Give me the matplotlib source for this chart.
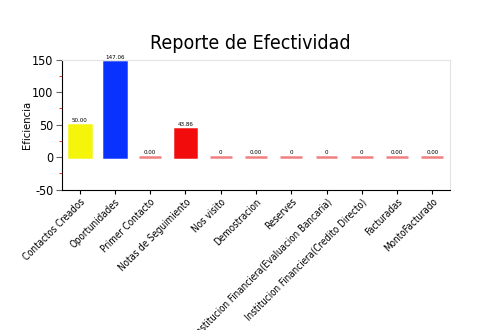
import matplotlib
matplotlib.use("Agg")
import matplotlib.pyplot as plt
from matplotlib.ticker import MultipleLocator

categorias = [
    "Contactos Creados", "Oportunidades", "Primer Contacto", "Notas de Seguimiento",
    "Nos visito", "Demostracion", "Reserves",
    "Institucion Financiera(Evaluacion Bancaria)",
    "Institucion Financiera(Credito Directo)", "Facturadas", "MontoFacturado",
]
valores = [50.00, 147.06, 0.00, 43.86, 0, 0.00, 0, 0, 0, 0.00, 0.00]
etiquetas = ["50.00", "147.06", "0.00", "43.86", "0", "0.00", "0", "0", "0", "0.00", "0.00"]
colores = ["#f5f50c", "#0a32ff", "#f08080", "#f20c0c", "#f08080", "#f08080",
           "#f08080", "#f08080", "#f08080", "#f08080", "#f08080"]

plt.rcParams["font.family"] = ["DejaVu Sans"]
plt.rcParams["font.stretch"] = "condensed"
plt.rcParams["font.weight"] = "light"
plt.rcParams["axes.unicode_minus"] = False

fig = plt.figure(figsize=(5.0, 3.3), dpi=100)
ax = fig.add_axes([0.124, 0.425, 0.776, 0.394])

x = range(len(categorias))
ax.bar(x, valores, width=0.62, color=colores, edgecolor=colores, linewidth=1.8)
for xi, v, t in zip(x, valores, etiquetas):
    ax.text(xi, v + 3, t, ha="center", va="bottom", fontsize=4.5)

ax.set_xlim(-0.5, len(categorias) - 0.5)
ax.set_ylim(-50, 150)
ax.yaxis.set_major_locator(MultipleLocator(50))
ax.yaxis.set_minor_locator(MultipleLocator(25))
ax.tick_params(axis="y", which="major", length=4, color="#666666", labelsize=9, pad=2)
ax.tick_params(axis="y", which="minor", length=2, color="red")
ax.tick_params(axis="x", length=3, color="black", labelsize=7, pad=2)
ax.set_xticks(list(x))
ax.set_xticklabels(categorias, rotation=45, ha="right", rotation_mode="anchor")
ax.set_ylabel("Eficiencia", fontsize=8, labelpad=0)

ax.spines["left"].set_color("black")
ax.spines["bottom"].set_color("black")
ax.spines["top"].set_color("#e4e4e4")
ax.spines["right"].set_color("#e4e4e4")

fig.text(0.5, 0.868, "Reporte de Efectividad", ha="center", va="center", fontsize=14)

fig.savefig("out.png", dpi=100)
